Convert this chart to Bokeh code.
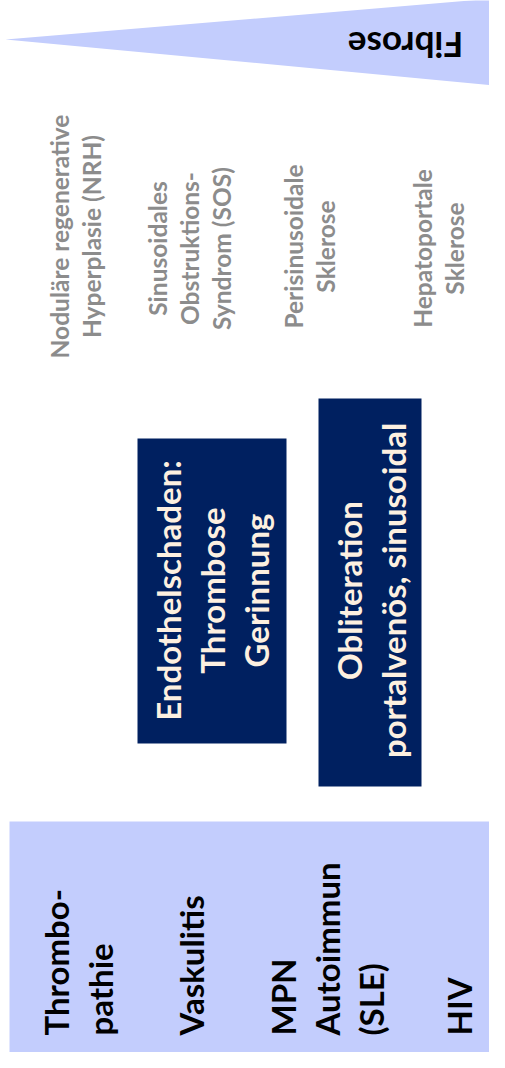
import math
from bokeh.plotting import figure
from bokeh.models import Range1d, ColumnDataSource
from bokeh.embed import file_html
from bokeh.resources import INLINE
from bokeh.core.properties import value

# ---- content ----
fibrose_label = "Fibrose"
lesion_labels = [
    "Noduläre regenerative\nHyperplasie (NRH)",
    "Sinusoidales\nObstruktions-\nSyndrom (SOS)",
    "Perisinusoidale\nSklerose",
    "Hepatoportale\nSklerose",
]
mechanism_labels = [
    "Endothelschaden:\nThrombose\nGerinnung",
    "Obliteration\nportalvenös, sinusoidal",
]
cause_labels = [
    "Thrombo-\npathie",
    "Vaskulitis",
    "MPN\nAutoimmun\n(SLE)",
    "HIV",
]

# ---- layout (page pixel coordinates, y downwards) ----
FONT = "Lato"
LIGHT = "#c3cdfd"
NAVY = "#002060"
CREAM = "#fdf0e0"
GREY = "#8c8c8c"

p = figure(width=489, height=1052, output_backend="svg", toolbar_location=None,
           x_range=Range1d(0, 489), y_range=Range1d(1052, 0), min_border=0)
p.axis.visible = False
p.grid.visible = False
p.outline_line_color = None
p.background_fill_color = "white"
p.border_fill_color = "white"

# Fibrose wedge
p.patch(x=[5, 505, 505], y=[39, -3, 86], fill_color=LIGHT, line_color=None)
p.text(x=[405], y=[45], text=[fibrose_label], angle=math.pi,
       text_align="center", text_baseline="middle",
       text_font=value(FONT), text_font_style="bold", text_font_size="35px",
       text_color="black")

# lesion labels (grey)
les_src = ColumnDataSource(dict(x=[75, 189, 309, 438], y=[236, 248, 246, 248],
                                text=lesion_labels))
p.text(x="x", y="y", text="text", source=les_src, angle=math.pi / 2,
       text_align="center", text_baseline="middle", text_line_height=1.1,
       text_font=value(FONT), text_font_style="bold", text_font_size="24.5px",
       text_color=GREY)

# mechanism boxes
p.quad(left=[137, 318], right=[286, 421], top=[438, 398], bottom=[743, 786],
       fill_color=NAVY, line_color=None)
mech_src = ColumnDataSource(dict(x=[211, 370], y=[590, 590], text=mechanism_labels))
p.text(x="x", y="y", text="text", source=mech_src, angle=math.pi / 2,
       text_align="center", text_baseline="middle", text_line_height=1.1,
       text_font=value(FONT), text_font_style="bold", text_font_size="33px",
       text_color=CREAM)

# causes box
p.quad(left=[9], right=[505], top=[821], bottom=[1061], fill_color=LIGHT, line_color=None)
cause_src = ColumnDataSource(dict(x=[77, 190, 326, 458], y=[1035] * 4, text=cause_labels))
p.text(x="x", y="y", text="text", source=cause_src, angle=math.pi / 2,
       text_align="left", text_baseline="middle", text_line_height=1.1,
       text_font=value(FONT), text_font_style="bold", text_font_size="33px",
       text_color="black")

open("out.html", "w").write(file_html(p, INLINE))
